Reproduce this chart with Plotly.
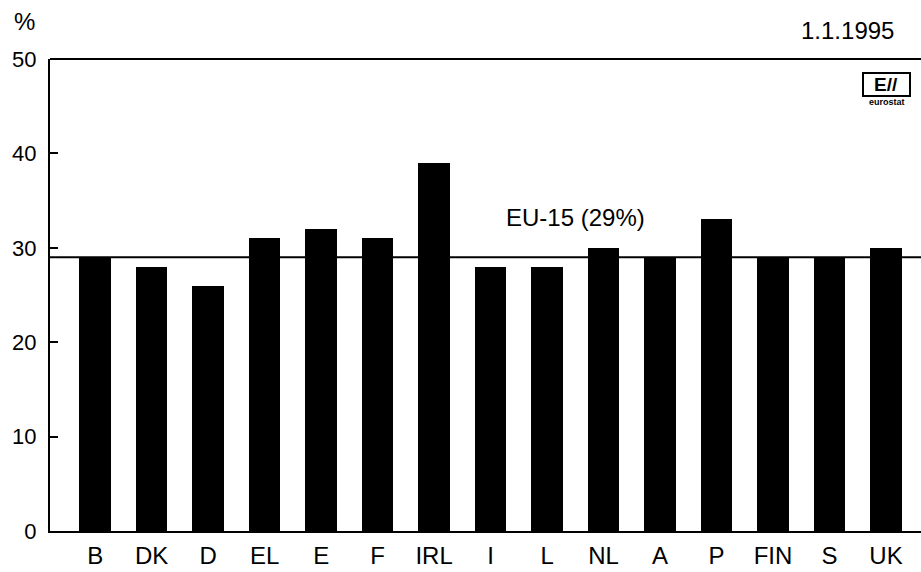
import plotly.graph_objects as go

countries = ["B", "DK", "D", "EL", "E", "F", "IRL", "I", "L", "NL", "A", "P", "FIN", "S", "UK"]
values = [29, 28, 26, 31, 32, 31, 39, 28, 28, 30, 29, 33, 29, 29, 30]
eu_average = 29
y_ticks = [0, 10, 20, 30, 40, 50]

FONT = "Liberation Sans, Arial, Helvetica, sans-serif"

W, H = 921, 572
L, T, B = 50, 59, 41
PW, PH = W - L, H - T - B


def px(x):
    return (x - L) / PW


def py(y):
    return (H - B - y) / PH


fig = go.Figure()
fig.add_trace(go.Bar(
    x=list(range(len(countries))), y=values,
    marker=dict(color="black", line=dict(width=0)),
    width=0.56, showlegend=False, hoverinfo="x+y",
))

# EU-15 average line
fig.add_shape(type="line", xref="paper", yref="y", x0=0, x1=1, y0=eu_average, y1=eu_average,
              line=dict(color="black", width=2), layer="below")
fig.add_annotation(x=8.51, y=33.2, xref="x", yref="y", text="EU-15 (29%)", showarrow=False,
                   font=dict(size=24, color="black", family=FONT))

# top frame line
fig.add_shape(type="line", xref="paper", yref="paper", x0=0, x1=1, y0=1, y1=1,
              line=dict(color="black", width=2))

fig.add_annotation(xref="paper", yref="paper", x=px(24), y=py(21), xanchor="center", yanchor="middle",
                   text="%", showarrow=False, font=dict(size=24, color="black", family=FONT))
fig.add_annotation(xref="paper", yref="paper", x=px(896), y=py(31), xanchor="right", yanchor="middle",
                   text="1.1.1995", showarrow=False, font=dict(size=24, color="black", family=FONT))

# eurostat logo (approximation)
fig.add_shape(type="rect", xref="paper", yref="paper",
              x0=px(863), x1=px(910), y0=py(96), y1=py(73),
              line=dict(color="black", width=2), fillcolor="white")
fig.add_annotation(xref="paper", yref="paper", x=px(886), y=py(85),
                   text="<b>E//</b>", showarrow=False, xanchor="center", yanchor="middle",
                   font=dict(size=19, color="black", family=FONT))
fig.add_annotation(xref="paper", yref="paper", x=px(887), y=py(102),
                   text="<b>eurostat</b>", showarrow=False, xanchor="center", yanchor="middle",
                   font=dict(size=9, color="black", family=FONT))

fig.update_layout(
    width=W, height=H,
    margin=dict(l=L, r=0, t=T, b=B, autoexpand=False),
    paper_bgcolor="white", plot_bgcolor="white",
    font=dict(family=FONT, size=22, color="black"),
    bargap=0,
)
fig.update_xaxes(
    range=[-0.8, 14.62], tickmode="array", tickvals=list(range(len(countries))), ticktext=countries,
    showgrid=False, zeroline=False, showline=True, linecolor="black", linewidth=2,
    ticks="", tickfont=dict(size=24, family=FONT), ticklabelstandoff=2,
)
fig.update_yaxes(
    range=[0, 50], tickmode="array", tickvals=y_ticks,
    showgrid=False, zeroline=False, showline=True, linecolor="black", linewidth=2,
    ticks="inside", ticklen=8, tickwidth=2, tickcolor="black",
    tickfont=dict(size=22, family=FONT), ticklabelstandoff=7,
)

fig.write_html("out.html", config={"displayModeBar": False},
               post_script="document.body.style.margin='0';")
